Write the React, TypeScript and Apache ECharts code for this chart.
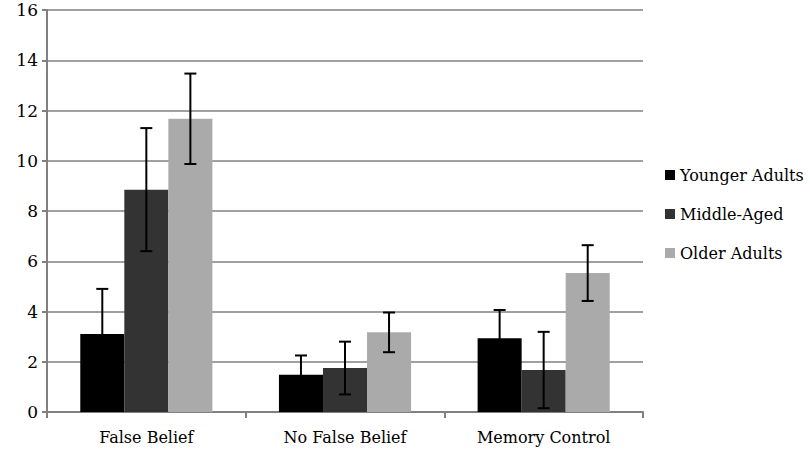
import React, { useEffect, useRef } from "react";
import * as echarts from "echarts";

const categories = ["False Belief", "No False Belief", "Memory Control"];
const seriesNames = ["Younger Adults", "Middle-Aged", "Older Adults"];
const youngerValues = [3.1, 1.48, 2.94];
const middleValues = [8.85, 1.75, 1.67];
const olderValues = [11.67, 3.17, 5.53];
const youngerErr = [1.8, 0.77, 1.12];
const middleErr = [2.45, 1.05, 1.52];
const olderErr = [1.8, 0.79, 1.11];
const colors = ["#000000", "#333333", "#aaaaaa"];
const yTicks = { min: 0, max: 16, interval: 2 };

const FONT = "DejaVu Serif";
const CAT_GAP = 0.335;

export default function App() {
  const ref = useRef<HTMLDivElement>(null);
  useEffect(() => {
    if (!ref.current) return;
    const chart = echarts.init(ref.current, null, { renderer: "svg" });
    const values = [youngerValues, middleValues, olderValues];
    const errs = [youngerErr, middleErr, olderErr];
    const errData: number[][] = [];
    values.forEach((vals, s) => {
      vals.forEach((v, c) => {
        errData.push([c, v - errs[s][c], v + errs[s][c], s]);
      });
    });
    chart.setOption({
      animation: false,
      grid: { left: 47, right: 167, top: 10, bottom: 40 },
      legend: {
        orient: "vertical",
        left: 660,
        top: 162,
        itemWidth: 10,
        itemHeight: 10,
        itemGap: 23,
        icon: "rect",
        data: seriesNames,
        textStyle: { fontFamily: FONT, fontSize: 16, color: "#000" },
      },
      xAxis: {
        type: "category",
        data: categories,
        axisLine: { lineStyle: { color: "#808080", width: 2 } },
        axisTick: { show: true, length: 6, lineStyle: { color: "#808080", width: 2 } },
        axisLabel: { fontFamily: FONT, fontSize: 16, color: "#000", margin: 17 },
      },
      yAxis: {
        type: "value",
        min: yTicks.min,
        max: yTicks.max,
        interval: yTicks.interval,
        axisLine: { show: true, lineStyle: { color: "#808080", width: 2 } },
        axisTick: { show: true, length: 5, lineStyle: { color: "#808080", width: 2 } },
        axisLabel: { fontFamily: FONT, fontSize: 17, color: "#000", margin: 9 },
        splitLine: { lineStyle: { color: "#808080", width: 1.5 } },
      },
      series: [
        ...seriesNames.map((name, i) => ({
          name,
          type: "bar",
          data: values[i],
          barGap: "0%",
          barCategoryGap: CAT_GAP * 100 + "%",
          itemStyle: { color: colors[i] },
        })),
        {
          type: "custom",
          z: 10,
          data: errData,
          encode: { x: 0, y: [1, 2] },
          renderItem: (params: any, api: any) => {
            const c = api.value(0);
            const lo = api.value(1);
            const hi = api.value(2);
            const s = api.value(3);
            const band = api.size([1, 0])[0];
            const barW = (band * (1 - CAT_GAP)) / 3;
            const pLo = api.coord([c, lo]);
            const pHi = api.coord([c, hi]);
            const x = pLo[0] + (s - 1) * barW;
            const cap = 6;
            const style = { stroke: "#000", lineWidth: 2 };
            return {
              type: "group",
              children: [
                { type: "line", shape: { x1: x, y1: pLo[1], x2: x, y2: pHi[1] }, style },
                { type: "line", shape: { x1: x - cap, y1: pHi[1], x2: x + cap, y2: pHi[1] }, style },
                { type: "line", shape: { x1: x - cap, y1: pLo[1], x2: x + cap, y2: pLo[1] }, style },
              ],
            };
          },
        },
      ],
    });
    return () => chart.dispose();
  }, []);
  return (
    <div
      ref={ref}
      style={{ position: "fixed", left: 0, top: 0, width: 810, height: 452, background: "#fff" }}
    />
  );
}
